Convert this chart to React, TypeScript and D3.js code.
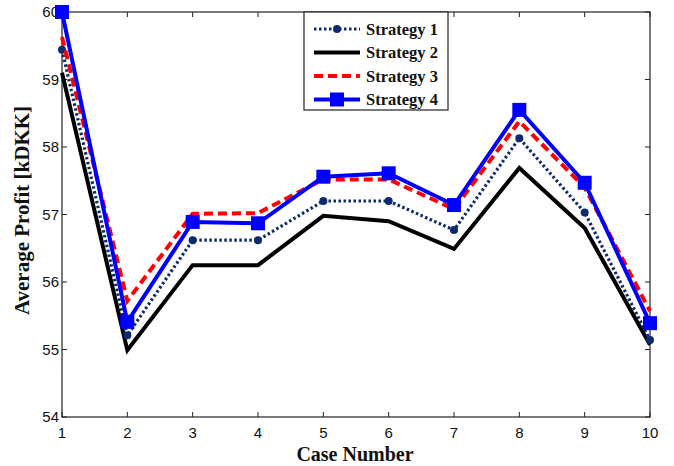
import React from "react";
import * as d3 from "d3";

const cases = [1, 2, 3, 4, 5, 6, 7, 8, 9, 10];
const strategy1 = [59.44, 55.21, 56.62, 56.62, 57.2, 57.2, 56.77, 58.13, 57.03, 55.14];
const strategy2 = [59.1, 54.99, 56.25, 56.25, 56.98, 56.9, 56.49, 57.69, 56.8, 55.07];
const strategy3 = [59.63, 55.72, 57.01, 57.02, 57.52, 57.52, 57.08, 58.38, 57.4, 55.57];
const strategy4 = [60.0, 55.41, 56.89, 56.87, 57.56, 57.61, 57.14, 58.55, 57.47, 55.39];
const yTicks = [54, 55, 56, 57, 58, 59, 60];
const seriesNames = ["Strategy 1", "Strategy 2", "Strategy 3", "Strategy 4"];

const W = 674, H = 466;
const L = 62, R = 650, T = 12, B = 417;

export default function App() {
  const x = d3.scaleLinear().domain([1, 10]).range([L, R]);
  const y = d3.scaleLinear().domain([54, 60]).range([B, T]);
  const line = d3.line<number>().x((_, i) => x(cases[i])).y((d) => y(d));

  const styles = [
    { data: strategy1, color: "#0c2a6e", width: 3.2, dash: "2.5,2.5", marker: "dot" },
    { data: strategy2, color: "#000000", width: 4, dash: "", marker: "none" },
    { data: strategy3, color: "#ff0000", width: 4, dash: "9,5", marker: "none" },
    { data: strategy4, color: "#0000ff", width: 4, dash: "", marker: "square" },
  ];
  const drawOrder = [1, 0, 2, 3];

  const marker = (kind: string, cx: number, cy: number, color: string, key: any) => {
    if (kind === "dot") return <circle key={key} cx={cx} cy={cy} r={4} fill={color} />;
    if (kind === "square") return <rect key={key} x={cx - 7} y={cy - 7} width={14} height={14} fill={color} />;
    return null;
  };

  const tickLen = 5;
  return (
    <svg width={W} height={H} style={{ display: "block", position: "absolute", left: 0, top: 0 }}>
      <rect width={W} height={H} fill="#fff" />
      <rect x={L} y={T} width={R - L} height={B - T} fill="none" stroke="#222" strokeWidth={1.2} />
      {cases.map((c) => (
        <g key={"xt" + c}>
          <line x1={x(c)} x2={x(c)} y1={B} y2={B - tickLen} stroke="#222" />
          <line x1={x(c)} x2={x(c)} y1={T} y2={T + tickLen} stroke="#222" />
          <text x={x(c)} y={438} textAnchor="middle" fontFamily="Liberation Sans, Arial, sans-serif" fontSize={15} fill="#111">{c}</text>
        </g>
      ))}
      {yTicks.map((v) => (
        <g key={"yt" + v}>
          <line x1={L} x2={L + tickLen} y1={y(v)} y2={y(v)} stroke="#222" />
          <line x1={R} x2={R - tickLen} y1={y(v)} y2={y(v)} stroke="#222" />
          <text x={L - 3} y={y(v) + 5} textAnchor="end" fontFamily="Liberation Sans, Arial, sans-serif" fontSize={15} fill="#111">{v}</text>
        </g>
      ))}
      <text x={355} y={461} textAnchor="middle" fontFamily="Liberation Serif, Times New Roman, serif" fontWeight="bold" fontSize={20} fill="#111">Case Number</text>
      <text transform={`translate(29,${(T + B) / 2 - 4}) rotate(-90)`} textAnchor="middle" fontFamily="Liberation Serif, Times New Roman, serif" fontWeight="bold" fontSize={21} fill="#111">Average Profit [kDKK]</text>
      {drawOrder.map((si) => {
        const s = styles[si];
        return (
          <g key={"s" + si}>
            <path d={line(s.data) || ""} fill="none" stroke={s.color} strokeWidth={s.width} strokeDasharray={s.dash || undefined} strokeLinejoin="miter" />
            {s.data.map((v, i) => marker(s.marker, x(cases[i]), y(v), s.color, i))}
          </g>
        );
      })}
      <g>
        <rect x={304} y={12} width={144} height={98} fill="#fff" stroke="#222" strokeWidth={1.2} />
        {styles.map((s, i) => {
          const ly = 29 + i * 23.5;
          return (
            <g key={"lg" + i}>
              <line x1={314} x2={360} y1={ly} y2={ly} stroke={s.color} strokeWidth={s.width} strokeDasharray={s.dash || undefined} />
              {marker(s.marker, 337, ly, s.color, "m")}
              <text x={366} y={ly + 5.5} fontFamily="Liberation Serif, Times New Roman, serif" fontWeight="bold" fontSize={16.5} fill="#111">{seriesNames[i]}</text>
            </g>
          );
        })}
      </g>
    </svg>
  );
}
